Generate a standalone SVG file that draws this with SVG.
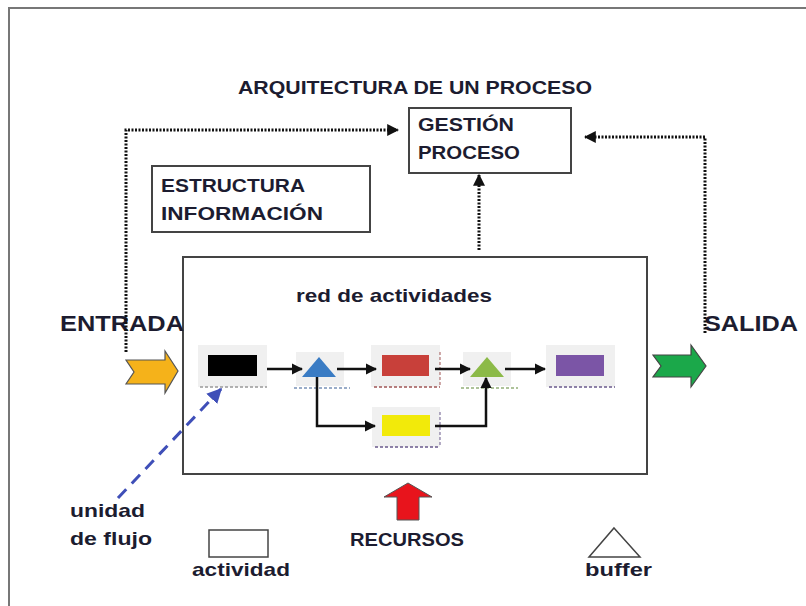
<svg xmlns="http://www.w3.org/2000/svg" width="806" height="606" viewBox="0 0 806 606">
<defs>
<style>
.t{font-family:"Liberation Sans","Open Sans",Arial,sans-serif;font-weight:bold;fill:#1c1c30;}
.m{font-size:19px;}
.box{fill:#fff;stroke:#444;stroke-width:2;}
.dot{fill:none;stroke:#111;stroke-width:3;stroke-dasharray:2 1.5;}
.flow{fill:none;stroke:#111;stroke-width:2.5;}
.shadow{fill:#f0f0f0;}
</style>
<marker id="ah" viewBox="0 0 10 10" refX="9" refY="5" markerWidth="4.5" markerHeight="4.5" orient="auto" markerUnits="strokeWidth">
<path d="M0,0 L10,5 L0,10 z" fill="#111"/>
</marker>
<marker id="ahd" viewBox="0 0 10 10" refX="9" refY="5" markerWidth="4" markerHeight="4" orient="auto" markerUnits="strokeWidth">
<path d="M0,0 L10,5 L0,10 z" fill="#111"/>
</marker>
<marker id="ahb" viewBox="0 0 10 10" refX="9" refY="5" markerWidth="5" markerHeight="5" orient="auto" markerUnits="strokeWidth">
<path d="M0,0 L10,5 L0,10 z" fill="#3f4fb8"/>
</marker>
</defs>
<rect width="806" height="606" fill="#fff"/>
<!-- frame -->
<path d="M9,606 V8 H806" fill="none" stroke="#777" stroke-width="2"/>

<text class="t m" x="238" y="94" textLength="354" lengthAdjust="spacingAndGlyphs">ARQUITECTURA DE UN PROCESO</text>

<g id="gestion">
<rect class="box" x="409" y="108" width="162" height="65"/>
<text class="t m" x="418" y="131" textLength="96" lengthAdjust="spacingAndGlyphs">GESTIÓN</text>
<text class="t m" x="418" y="159" textLength="102" lengthAdjust="spacingAndGlyphs">PROCESO</text>
</g>

<g id="estructura">
<rect class="box" x="152" y="166" width="218" height="66"/>
<text class="t m" x="161" y="192" textLength="144" lengthAdjust="spacingAndGlyphs">ESTRUCTURA</text>
<text class="t m" x="161" y="220" textLength="162" lengthAdjust="spacingAndGlyphs">INFORMACIÓN</text>
</g>

<g id="red">
<rect class="box" x="183" y="257" width="464" height="217"/>
<text class="t m" x="296" y="302" textLength="196" lengthAdjust="spacingAndGlyphs">red de actividades</text>
</g>

<g id="entrada">
<text class="t" x="60" y="331" font-size="22" textLength="124" lengthAdjust="spacingAndGlyphs">ENTRADA</text>
<path d="M126,360 H165 V351 L178,371 L165,393 V384 H126 L134,372 z" fill="#f5b21a" stroke="#555" stroke-width="1.2"/>
</g>

<g id="salida">
<text class="t" x="704" y="331" font-size="22" textLength="94" lengthAdjust="spacingAndGlyphs">SALIDA</text>
<path d="M653,355 H691 V345 L706,366 L691,387 V377 H653 L661,366 z" fill="#1ba84a" stroke="#444" stroke-width="1.2"/>
</g>

<g id="act-negra">
<rect class="shadow" x="198" y="345" width="69" height="42"/>
<line x1="200" y1="387" x2="267" y2="387" stroke="#999" stroke-width="1.5" stroke-dasharray="3 2"/>
<rect x="208" y="355" width="49" height="21" fill="#000"/>
</g>
<g id="buffer-azul">
<rect class="shadow" x="296" y="352" width="48" height="34"/>
<line x1="294" y1="388" x2="350" y2="388" stroke="#7a93b8" stroke-width="1.5" stroke-dasharray="3 2"/>
<polygon points="319,357 336,377 302,377" fill="#3a7cc4"/>
</g>
<g id="act-roja">
<rect class="shadow" x="371" y="345" width="69" height="42"/>
<line x1="374" y1="387" x2="440" y2="387" stroke="#a05555" stroke-width="1.5" stroke-dasharray="3 2"/>
<line x1="440" y1="352" x2="440" y2="387" stroke="#a05555" stroke-width="1" stroke-dasharray="3 2"/>
<rect x="382" y="355" width="47" height="21" fill="#c8403a"/>
</g>
<g id="buffer-verde">
<rect class="shadow" x="463" y="352" width="48" height="34"/>
<line x1="461" y1="388" x2="518" y2="388" stroke="#94b07a" stroke-width="1.5" stroke-dasharray="3 2"/>
<polygon points="487,357 504,377 470,377" fill="#8cba48"/>
</g>
<g id="act-morada">
<rect class="shadow" x="546" y="345" width="69" height="42"/>
<line x1="549" y1="387" x2="615" y2="387" stroke="#6a5a8c" stroke-width="1.5" stroke-dasharray="3 2"/>
<rect x="556" y="355" width="48" height="21" fill="#7b55a6"/>
</g>
<g id="act-amarilla">
<rect class="shadow" x="372" y="407" width="68" height="40"/>
<line x1="375" y1="447" x2="440" y2="447" stroke="#6a5a8c" stroke-width="1.5" stroke-dasharray="3 2"/>
<line x1="440" y1="412" x2="440" y2="447" stroke="#6a5a8c" stroke-width="1" stroke-dasharray="3 2"/>
<rect x="382" y="415" width="48" height="21" fill="#f2ea0a"/>
</g>

<g id="connectors">
<path class="dot" d="M126,352 V130 H398" marker-end="url(#ahd)"/>
<path class="dot" d="M705,333 V137 H585" marker-end="url(#ahd)"/>
<path class="dot" d="M479,250 V175" marker-end="url(#ahd)"/>
<path class="flow" d="M267,369 H302" marker-end="url(#ah)"/>
<path class="flow" d="M337,369 H376" marker-end="url(#ah)"/>
<path class="flow" d="M435,369 H470" marker-end="url(#ah)"/>
<path class="flow" d="M505,369 H545" marker-end="url(#ah)"/>
<path class="flow" d="M317,377 V426 H375" marker-end="url(#ah)"/>
<path class="flow" d="M435,426 H486 V378" marker-end="url(#ah)"/>
<path d="M118,498 L221,389" fill="none" stroke="#3f4fb8" stroke-width="3" stroke-dasharray="12 8" marker-end="url(#ahb)"/>
</g>

<g id="unidad">
<text class="t m" x="70" y="517" textLength="75" lengthAdjust="spacingAndGlyphs">unidad</text>
<text class="t m" x="70" y="545" textLength="82" lengthAdjust="spacingAndGlyphs">de flujo</text>
</g>

<g id="leg-actividad">
<rect x="209" y="530" width="59" height="27" fill="#fff" stroke="#444" stroke-width="1.5"/>
<text class="t m" x="192" y="576" textLength="98" lengthAdjust="spacingAndGlyphs">actividad</text>
</g>

<g id="recursos">
<path d="M397,520 V497 H384 L408,483 L432,497 H419 V520 z" fill="#e8141c" stroke="#555" stroke-width="1"/>
<text class="t m" x="350" y="546" textLength="114" lengthAdjust="spacingAndGlyphs">RECURSOS</text>
</g>

<g id="leg-buffer">
<polygon points="614,528 640,557 589,557" fill="#fff" stroke="#444" stroke-width="1.5"/>
<text class="t m" x="585" y="576" textLength="67" lengthAdjust="spacingAndGlyphs">buffer</text>
</g>
</svg>
